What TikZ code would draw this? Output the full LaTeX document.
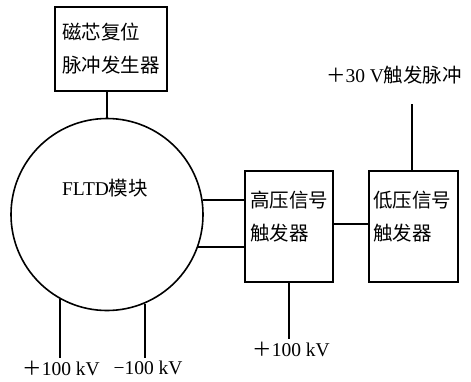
\documentclass[tikz,border=0pt]{standalone}
\usepackage{fontspec}
\setmainfont{Liberation Serif}
\newfontfamily\cjk{Noto Sans CJK SC}
\usetikzlibrary{positioning}

\begin{document}
\begin{tikzpicture}[
        x=1pt, y=-1pt,
        line width=1.6pt,
        every node/.style={font=\fontsize{19.5}{33}\selectfont},
        box/.style={draw, align=left, inner sep=0pt},
        txt/.style={align=left, inner sep=2pt}
    ]
        \useasboundingbox (0,0) rectangle (471,381);

        \node[box, minimum width=112pt, minimum height=84pt] (reset) at (111,49) {\cjk 磁芯复位\\\cjk 脉冲发生器};
        \node[draw, circle, minimum size=192pt, inner sep=0pt] (fltd) at (107,214.5) {};
        \node[txt] (fltdname) at (105,188) {FLTD{\cjk 模块}};
        \node[box, minimum width=88pt, minimum height=111pt] (hv) at (289,226.5) {};
        \node[txt] (hvname) at (289,216.5) {\cjk 高压信号\\\cjk 触发器};
        \node[box, minimum width=89pt, minimum height=111pt] (lv) at (413.5,226.5) {};
        \node[txt] (lvname) at (412,216.5) {\cjk 低压信号\\\cjk 触发器};

        \node[txt] (trigger) at (394,75) {{\cjk ＋}30 V{\cjk 触发脉冲}};
        \node[txt] (hvsupply) at (291,349) {{\cjk ＋}100 kV};
        \node[txt] (possupply) at (61,368) {{\cjk ＋}100 kV};
        \node[txt] (negsupply) at (148,368) {−100 kV};
        \coordinate (trigend) at (412,104);

        \draw (fltd.north) -- (fltd.north |- reset.south);
        \draw ([yshift=-0.6pt]fltd.9) -- ([yshift=-0.6pt]fltd.9 -| hv.west);
        \draw ([yshift=0.6pt]fltd.-20) -- ([yshift=0.6pt]fltd.-20 -| hv.west);
        \draw ([yshift=2.5pt]hv.east) -- ([yshift=2.5pt]lv.west);
        \draw (lv.north -| trigend) -- (trigend);
        \draw (hv.south) -- (hv.south |- hvsupply.north);
        \draw (fltd.241) -- (fltd.241 |- possupply.north);
        \draw (fltd.293) -- (fltd.293 |- negsupply.north);
    \end{tikzpicture}
\end{document}
